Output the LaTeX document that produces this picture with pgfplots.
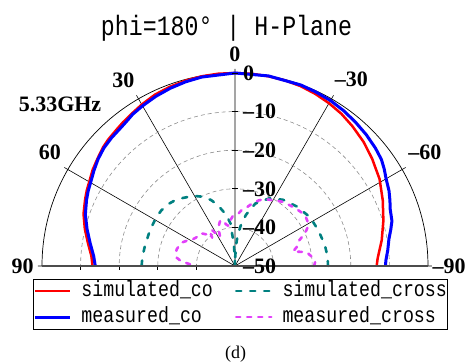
\documentclass[border=0pt]{standalone}
\usepackage{fontspec}
\setmainfont{Liberation Serif}
\newfontfamily\monofont[FakeStretch=0.83]{Liberation Mono}
\usepackage{pgfplots}
\usepackage{pgfplotstable}
\pgfplotsset{compat=1.18}
\usepgfplotslibrary{polar}

\definecolor{cred}{RGB}{255,0,0}
\definecolor{cblue}{RGB}{0,0,255}
\definecolor{cteal}{RGB}{0,128,128}
\definecolor{cmag}{RGB}{226,64,250}

% angle (deg, 0 = boresight, positive to the left), gain (dB)
\pgfplotstableread{
a db
-90 -13.3
-87 -13.0
-80 -11.4
-73 -9.8
-66 -8.1
-59 -6.3
-52 -4.9
-46 -3.7
-40 -2.7
-35 -1.9
-30 -1.3
-25 -0.8
-20 -0.4
-15 -0.2
-10 -0.1
-5 0
0 0
5 0
10 -0.1
15 -0.3
20 -0.6
25 -1.0
30 -1.7
34 -2.3
38 -2.8
41 -3.2
45 -3.6
48 -4.0
52 -4.8
56 -5.5
59 -6.2
63 -6.9
66 -7.5
71 -8.5
76 -9.9
81 -11.4
86 -12.7
90 -13.1
}\simco

\pgfplotstableread{
a db
-90 -11.0
-88 -10.9
-84 -10.2
-80 -9.5
-77 -8.6
-74 -7.7
-70 -7.2
-67 -6.4
-64 -5.6
-60 -4.8
-57 -3.9
-54 -3.1
-50 -2.5
-45 -1.9
-40 -1.4
-35 -0.9
-30 -0.5
-25 -0.3
-20 -0.1
-10 0
0 0
10 -0.3
15 -0.6
20 -1.0
25 -1.5
30 -2.1
34 -2.6
37 -3.2
40 -3.6
44 -3.9
48 -4.3
52 -5.0
56 -5.9
59 -6.6
63 -7.3
66 -7.9
71 -9.0
76 -10.5
81 -12.0
86 -13.3
90 -13.8
}\measco

\pgfplotstableread{
a db
-90 -25.9
-84 -25.9
-77 -26.1
-67 -26.5
-57 -26.8
-46 -27.8
-36 -28.8
-27 -30.3
-18 -33
-12 -36.5
-8 -39.5
-5 -42
-3 -44.5
-1 -48
0 -50
1 -48
3 -44.5
6 -39
9 -37
12 -35.6
16 -33.5
20 -31.8
25 -30.2
29 -29.3
34 -28.4
38 -27.7
43 -26.9
48 -26.3
53 -26.1
58 -26
67 -26.1
77 -26.1
84 -25.9
90 -25.8
}\simcross

\pgfplotstableread{
a db
-90 -29.5
-87 -29.2
-83 -30
-79 -31.1
-76 -34.5
-73 -33.3
-69 -32.5
-65 -30
-61 -28.2
-58 -27.9
-54 -27.6
-50 -28
-45 -28.5
-40 -29
-36 -29.4
-32 -30
-28 -30.6
-24 -31
-20 -31.9
-16 -33
-12 -34.3
-8 -35
-4 -36.3
0 -36.6
3 -37.2
6 -38.2
9 -39.5
12 -39
15 -37.8
18 -37.6
21 -38.5
24 -39.5
27 -41.5
30 -40.5
33 -38.6
36 -39
39 -40.6
42 -39
46 -37.8
50 -37.6
54 -37.5
58 -37
62 -36
66 -35
70 -34.6
74 -34.3
78 -34.3
82 -34.8
85 -36
88 -38.5
90 -40
}\meascross

\newcommand{\lbl}{\bfseries\fontsize{22}{24}\selectfont}

\begin{document}
\begin{tikzpicture}
\useasboundingbox (0,0) rectangle (467pt,362pt);
\begin{polaraxis}[
  at={(235pt,96pt)}, anchor=south,
  scale only axis, width=386pt,
  xmin=0, xmax=180, ymin=0, ymax=50,
  xtick={0,30,...,180}, ytick={10,20,30,40},
  xticklabels={}, yticklabels={},
  xmajorgrids, ymajorgrids,
  x grid style={black, line width=0.6pt},
  y grid style={black!45, dash pattern=on 4pt off 3pt, line width=0.6pt},
  axis line style={black, line width=0.7pt},
  major tick length=4pt,
  tick style={black, line width=0.6pt},
  clip=false,
  legend columns=2,
  legend cell align=left,
  legend style={
    at={(-0.023,-0.066)}, anchor=north west,
    draw=black, line width=0.6pt,
    font=\monofont\fontsize{22}{22}\selectfont,
    inner xsep=0pt, inner ysep=1pt,
    nodes={inner xsep=0pt, inner ysep=1pt, text height=15pt, text depth=5pt},
    row sep=4pt,
    /tikz/every odd column/.append style={column sep=10pt},
    /tikz/every even column/.append style={column sep=22pt},
  },
  legend image code/.code={\draw[#1] (0pt,0pt) -- (35pt,0pt);},
]
\addplot[cred, line width=2.5pt, no markers] table[x expr=\thisrow{a}+90, y expr=\thisrow{db}+50] {\simco};
\addlegendentry{simulated\_co}
\addplot[cteal, line width=2.6pt, dash pattern=on 5pt off 9pt, line cap=round, no markers] table[x expr=\thisrow{a}+90, y expr=\thisrow{db}+50] {\simcross};
\addlegendentry{simulated\_cross}
\addplot[cblue, line width=3pt, no markers] table[x expr=\thisrow{a}+90, y expr=\thisrow{db}+50] {\measco};
\addlegendentry{measured\_co}
\addplot[cmag, line width=2.6pt, dash pattern=on 4pt off 7pt, line cap=round, no markers] table[x expr=\thisrow{a}+90, y expr=\thisrow{db}+50] {\meascross};
\addlegendentry{measured\_cross}

\draw[black!70, line width=1.1pt] (axis cs:0,50) -- (axis cs:180,50);
\pgfplotsinvokeforeach{10,20,30,40,50}{
  \draw[black, line width=0.6pt] (axis cs:90,#1) ++(-3pt,0) -- ++(6pt,0);
}
% radial labels
\node[anchor=west, inner sep=0pt, font=\lbl] at ([xshift=8pt]axis cs:90,50) {0};
\node[anchor=west, inner sep=0pt, font=\lbl] at ([xshift=8pt]axis cs:90,40) {--10};
\node[anchor=west, inner sep=0pt, font=\lbl] at ([xshift=8pt]axis cs:90,30) {--20};
\node[anchor=west, inner sep=0pt, font=\lbl] at ([xshift=8pt]axis cs:90,20) {--30};
\node[anchor=west, inner sep=0pt, font=\lbl] at ([xshift=8pt]axis cs:90,10) {--40};
\node[anchor=west, inner sep=0pt, font=\lbl] at ([xshift=8pt]axis cs:90,0) {--50};
% angle labels
\node[inner sep=0pt, font=\lbl] at (axis cs:90,54.8) {0};
\node[inner sep=0pt, font=\lbl] at (axis cs:121,56.2) {30};
\node[inner sep=0pt, font=\lbl] at (axis cs:148.4,56.3) {60};
\node[inner sep=0pt, font=\lbl] at (axis cs:180,55) {90};
\node[inner sep=0pt, font=\lbl] at (axis cs:58,56.9) {--30};
\node[inner sep=0pt, font=\lbl] at (axis cs:31,57.4) {--60};
\node[inner sep=0pt, font=\lbl] at (axis cs:0,55.5) {--90};
\end{polaraxis}
\node[anchor=base, inner sep=0pt, font=\monofont\fontsize{28}{30}\selectfont] at (226.5pt,326pt) {phi=180° | H-Plane};
\node[inner sep=0pt, font=\lbl] at (60pt,258pt) {5.33GHz};
\node[inner sep=0pt, font=\fontsize{18}{20}\selectfont] at (235.5pt,8pt) {(d)};
\end{tikzpicture}
\end{document}
